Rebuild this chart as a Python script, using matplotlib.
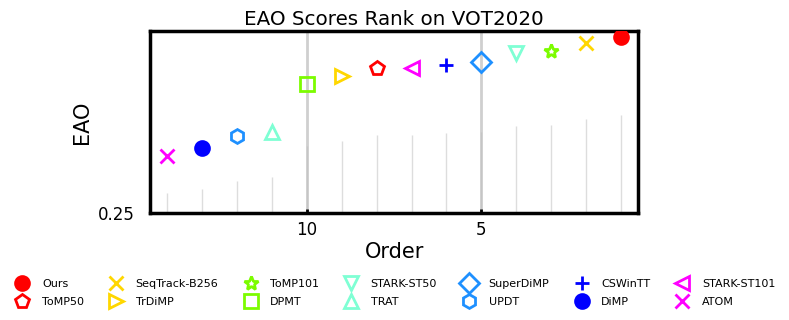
import matplotlib
matplotlib.use('Agg')
import matplotlib.pyplot as plt

# ranked 1 (best) .. 14
trackers = ['Ours', 'SeqTrack-B256', 'ToMP101', 'STARK-ST50', 'SuperDiMP', 'CSWinTT', 'STARK-ST101',
            'ToMP50', 'TrDiMP', 'DPMT', 'TRAT', 'UPDT', 'DiMP', 'ATOM']
order = list(range(1, 15))
eao = [0.3148, 0.3126, 0.3096, 0.3089, 0.3056, 0.3045, 0.3034,
       0.3034, 0.3005, 0.2975, 0.2797, 0.2782, 0.2738, 0.2709]
stem = [0.2861, 0.2846, 0.2824, 0.2820, 0.2798, 0.2794, 0.2787,
        0.2787, 0.2765, 0.2747, 0.2632, 0.2618, 0.2588, 0.2574]
colors = ['red', 'gold', 'lawngreen', 'aquamarine', 'dodgerblue', 'blue', 'magenta',
          'red', 'gold', 'lawngreen', 'aquamarine', 'dodgerblue', 'blue', 'magenta']
markers = ['o', 'x', '*', 'v', 'D', '+', '<', 'p', '>', 's', '^', 'h', 'o', 'x']
filled = [True, True, False, False, False, True, False, False, False, False, False, False, True, True]

fig = plt.figure(figsize=(7.89, 3.2), dpi=100)
ax = fig.add_axes([0.190, 0.334, 0.619, 0.569])

ax.vlines(order, 0.25, stem, color='#dddddd', lw=1, zorder=1)

handles = []
for i in range(len(trackers)):
    if filled[i]:
        h, = ax.plot(order[i], eao[i], ls='none', marker=markers[i], color=colors[i],
                     ms=10, mew=2, label=trackers[i], zorder=3)
    else:
        h, = ax.plot(order[i], eao[i], ls='none', marker=markers[i], markerfacecolor='none',
                     markeredgecolor=colors[i], ms=10, mew=2, label=trackers[i], zorder=3)
    handles.append(h)

ax.set_xlim(14.5, 0.5)
ax.set_ylim(0.25, 0.317)
ax.set_xticks([10, 5])
ax.set_yticks([0.25])
ax.grid(axis='x', color='#bbbbbb', lw=2, alpha=0.7, zorder=0)
ax.tick_params(axis='x', direction='in', length=3, width=2, labelsize=12, pad=6)
ax.tick_params(axis='y', length=0, labelsize=12, pad=11)
for s in ax.spines.values():
    s.set_linewidth(2.5)

ax.set_title('EAO Scores Rank on VOT2020', fontsize=14.3, pad=4)
ax.set_xlabel('Order', fontsize=15, labelpad=2)
ax.set_ylabel('EAO', fontsize=15)

# legend filled row by row: ranks 1-7 on top, 8-14 below
idx = []
for c in range(7):
    idx += [c, c + 7]
fig.legend([handles[i] for i in idx], [trackers[i] for i in idx], loc='lower center',
           bbox_to_anchor=(0.502, 0.009), ncol=7, frameon=False, fontsize=8,
           handlelength=1.0, columnspacing=2.4, handletextpad=1.25, labelspacing=0.73)

fig.savefig('out.png', dpi=100)
